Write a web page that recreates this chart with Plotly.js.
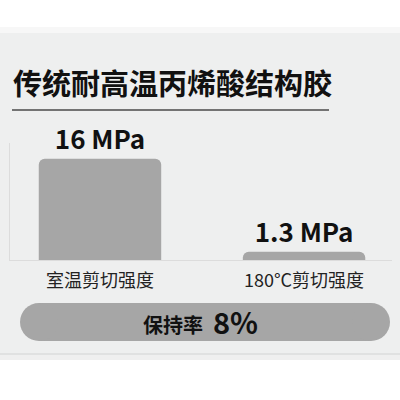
<!DOCTYPE html>
<html>
<head>
<meta charset="utf-8">
<script src="https://cdn.plot.ly/plotly-3.0.1.min.js"></script>
<style>
  html, body { margin: 0; padding: 0; background: #fff; }
  #chart { width: 400px; height: 400px; }
</style>
</head>
<body>
<div id="chart"></div>
<script>
const categories = ["室温剪切强度", "180°C剪切强度"];
const strength = [16, 1.3];
const unit = "MPa";
const chartTitle = "传统耐高温丙烯酸结构胶";
const retentionLabel = "保持率";
const retention = Math.round(strength[1] / strength[0] * 100);

const font = "Noto Sans CJK SC, Noto Sans, sans-serif";
const barGray = "#a6a6a6";

// paper coords map straight to pixels because margins are 0
const px = (v) => v / 400;
const py = (v) => 1 - v / 400;

let trace = {
  type: "bar",
  x: [0, 1],
  y: strength,
  width: 0.6,
  marker: { color: barGray, cornerradius: 6 },
  text: strength.map((v) => `<b>${v} ${unit}</b>`),
  textposition: "outside",
  textfont: { family: font, size: 26, color: "#111" },
  cliponaxis: false,
  hoverinfo: "skip",
};

// pill behind the retention text: rect plus two round ends
const pill = { x0: 20, x1: 390, y0: 303, y1: 341 };
const r = (pill.y1 - pill.y0) / 2;

let shapes = [
  // panel
  { type: "rect", xref: "paper", yref: "paper", x0: 0, x1: 1, y0: py(353), y1: py(33), fillcolor: "#eeefef", line: { width: 0 }, layer: "below" },
  { type: "rect", xref: "paper", yref: "paper", x0: 0, x1: 1, y0: py(355), y1: py(353), fillcolor: "#e0e1e1", line: { width: 0 }, layer: "below" },
  { type: "rect", xref: "paper", yref: "paper", x0: 0, x1: 1, y0: py(360), y1: py(355), fillcolor: "#efefef", line: { width: 0 }, layer: "below" },
  { type: "rect", xref: "paper", yref: "paper", x0: 0, x1: 1, y0: py(33), y1: py(27), fillcolor: "#f7f7f7", line: { width: 0 }, layer: "below" },
  // title underline
  { type: "line", xref: "paper", yref: "paper", x0: px(12), x1: px(329), y0: py(110), y1: py(110), line: { color: "#4a4a4a", width: 1.5 } },
  // pill
  { type: "rect", xref: "paper", yref: "paper", x0: px(pill.x0 + r), x1: px(pill.x1 - r), y0: py(pill.y1), y1: py(pill.y0), fillcolor: barGray, line: { width: 0 } },
  { type: "circle", xref: "paper", yref: "paper", x0: px(pill.x0), x1: px(pill.x0 + 2 * r), y0: py(pill.y1), y1: py(pill.y0), fillcolor: barGray, line: { width: 0 } },
  { type: "circle", xref: "paper", yref: "paper", x0: px(pill.x1 - 2 * r), x1: px(pill.x1), y0: py(pill.y1), y1: py(pill.y0), fillcolor: barGray, line: { width: 0 } },
];

let annotations = [
  { xref: "paper", yref: "paper", x: px(11), y: py(82), xanchor: "left", yanchor: "middle", showarrow: false,
    text: `<b>${chartTitle}</b>`, font: { family: font, size: 29, color: "#111" } },
  { xref: "paper", yref: "paper", x: px(205), y: py(324), xanchor: "right", yanchor: "middle", showarrow: false,
    text: `<b>${retentionLabel}</b>`, font: { family: font, size: 20, color: "#111" } },
  { xref: "paper", yref: "paper", x: px(211), y: py(321), xanchor: "left", yanchor: "middle", showarrow: false,
    text: `<b>${retention}%</b>`, font: { family: font, size: 29, color: "#111" } },
];

let layout = {
  width: 400,
  height: 400,
  margin: { l: 0, r: 0, t: 0, b: 0 },
  paper_bgcolor: "#fff",
  plot_bgcolor: "rgba(0,0,0,0)",
  showlegend: false,
  xaxis: {
    domain: [px(10), px(392)],
    range: [-0.441, 1.431],
    tickvals: [0, 1],
    ticktext: categories,
    tickfont: { family: font, size: 18, color: "#222" },
    ticks: "",
    ticklabelstandoff: 4,
    showline: true,
    linecolor: "#dcdcdc",
    linewidth: 1,
    showgrid: false,
    zeroline: false,
    fixedrange: true,
  },
  yaxis: {
    domain: [1 - 260 / 400, 1 - 143 / 400],
    range: [0, 18.5],
    showline: true,
    linecolor: "#dcdcdc",
    linewidth: 1,
    showgrid: false,
    zeroline: false,
    showticklabels: false,
    ticks: "",
    fixedrange: true,
  },
  shapes: shapes,
  annotations: annotations,
};

Plotly.newPlot("chart", [trace], layout, { displayModeBar: false, staticPlot: true });
</script>
</body>
</html>
